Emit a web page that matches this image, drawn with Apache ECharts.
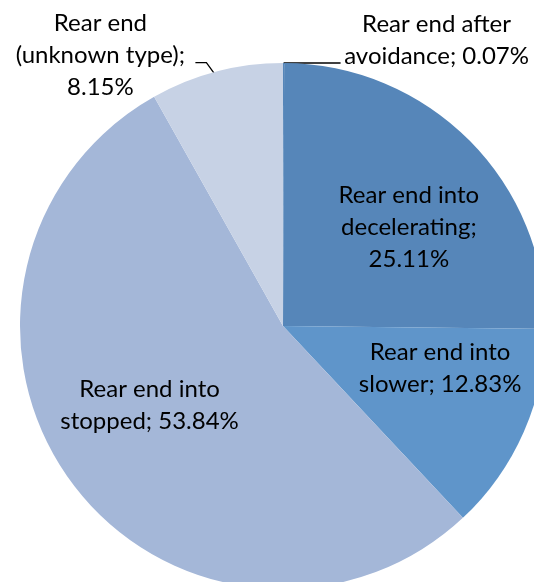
<!DOCTYPE html>
<html>
<head>
<meta charset="utf-8">
<script src="https://cdn.jsdelivr.net/npm/echarts@6/dist/echarts.min.js"></script>
<style>
  html, body { margin: 0; padding: 0; background: #fff; }
  #chart { width: 534px; height: 582px; }
</style>
</head>
<body>
<div id="chart"></div>
<script>
// Rear-end crash subtypes, share of all rear-end crashes (%)
const categories = [
  'Rear end after\navoidance',
  'Rear end into\ndecelerating',
  'Rear end into\nslower',
  'Rear end into\nstopped',
  'Rear end\n(unknown type)'
];
const shares = [0.07, 25.11, 12.83, 53.84, 8.15];
const sliceColors = ['#5686B9', '#5686B9', '#5F95CA', '#A4B7D8', '#C7D2E5'];

// Label text for each slice ("name; value%"), with line breaks as displayed
const labelTexts = [
  'Rear end after\navoidance; 0.07%',
  'Rear end into\ndecelerating;\n25.11%',
  'Rear end into\nslower; 12.83%',
  'Rear end into\nstopped; 53.84%',
  'Rear end\n(unknown type);\n8.15%'
];

const FONT = 'Lato, "Open Sans", sans-serif';
const chart = echarts.init(document.getElementById('chart'), null, { renderer: 'canvas' });

const data = categories.map((name, i) => ({
  name,
  value: shares[i],
  itemStyle: { color: sliceColors[i] },
  label: {
    show: true,
    position: (i === 0 || i === 4) ? 'outside' : 'inside',
    formatter: () => labelTexts[i]
  },
  labelLine: { show: i === 0 || i === 4 }
}));

// Nudges for the inside labels, away from the mid-radius default
const insideShift = { 1: [30, -4], 2: [34, -12], 3: [-25, 0] };

chart.setOption({
  animation: false,
  series: [{
    type: 'pie',
    center: [283, 326],
    radius: 263,
    startAngle: 90,
    clockwise: true,
    avoidLabelOverlap: false,
    label: {
      color: '#000',
      fontFamily: FONT,
      fontSize: 24,
      lineHeight: 32,
      align: 'center'
    },
    labelLine: {
      lineStyle: { color: '#000', width: 1.3 },
      length: 10,
      length2: 10
    },
    labelLayout: function (p) {
      const i = p.dataIndex;
      const pts = p.labelLinePoints;
      if (i === 0 && pts) {
        // short horizontal leader to the right of the slice tip
        const s = pts[0];
        return {
          x: s[0] + 153, y: s[1] - 23,
          align: 'center', verticalAlign: 'middle',
          labelLinePoints: [s, [s[0] + 57, s[1]], [s[0] + 57, s[1]]]
        };
      }
      if (i === 4 && pts) {
        // bent leader up-left to the label
        const s = pts[0];
        const a = [s[0] - 2, s[1] + 2];
        const b = [a[0] - 8, a[1] - 11];
        const c = [b[0] - 11, b[1]];
        return {
          x: c[0] - 95, y: c[1] - 7,
          align: 'center', verticalAlign: 'middle',
          labelLinePoints: [a, b, c]
        };
      }
      const d = insideShift[i];
      return d ? { dx: d[0], dy: d[1] } : {};
    },
    data
  }]
});
</script>
</body>
</html>
